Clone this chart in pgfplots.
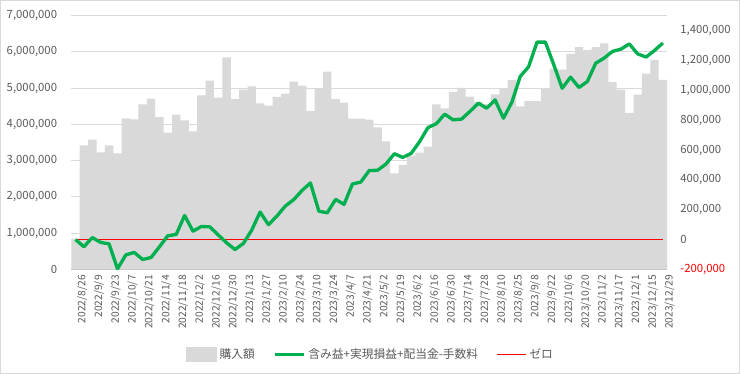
\documentclass[border=0pt]{standalone}
\usepackage{pgfplots}
\usepackage{pgfplotstable}
\pgfplotsset{compat=1.18}
\usepackage{fontspec}
\setmainfont{Noto Sans CJK JP}
\definecolor{barg}{HTML}{D9D9D9}
\definecolor{lineg}{HTML}{00B050}
\definecolor{txt}{HTML}{595959}
\definecolor{gridc}{HTML}{D9D9D9}
\definecolor{axc}{HTML}{BFBFBF}
\definecolor{zred}{HTML}{FF0000}

\pgfplotstableread{
x buy pl
0 850000 0
1 3420000 -49000
2 3580000 13000
3 3230000 -20000
4 3420000 -29000
5 3200000 -197000
6 4170000 -103000
7 4140000 -87000
8 4550000 -134000
9 4710000 -121000
10 4200000 -49000
11 3770000 25000
12 4270000 34000
13 4110000 161000
14 3810000 56000
15 4800000 87000
16 5210000 85000
17 4740000 31000
18 5850000 -22000
19 4700000 -67000
20 4960000 -27000
21 5050000 63000
22 4580000 184000
23 4520000 99000
24 4760000 157000
25 4850000 224000
26 5180000 267000
27 5070000 329000
28 4370000 379000
29 4980000 190000
30 5460000 179000
31 4700000 269000
32 4600000 235000
33 4160000 372000
34 4160000 385000
35 4130000 462000
36 3920000 464000
37 3530000 506000
38 2650000 575000
39 2880000 550000
40 3130000 577000
41 3220000 655000
42 3390000 750000
43 4550000 776000
44 4440000 840000
45 4900000 802000
46 5010000 807000
47 4770000 858000
48 4620000 914000
49 4560000 880000
50 4830000 936000
51 4990000 813000
52 5220000 920000
53 4500000 1093000
54 4640000 1158000
55 4640000 1323000
56 4990000 1323000
57 5540000 1171000
58 5510000 1014000
59 5950000 1088000
60 6130000 1019000
61 6050000 1059000
62 6130000 1182000
63 6240000 1216000
64 5170000 1261000
65 4960000 1276000
66 4320000 1311000
67 4820000 1244000
68 5400000 1223000
69 5780000 1267000
70 5230000 1317000
}\data

\begin{document}
\begin{tikzpicture}
\path[use as bounding box] (-53.5pt,-78.5pt) rectangle (501.5pt,202pt);
\draw[gridc, line width=0.75pt] (-53.1pt,-78.1pt) rectangle (501.1pt,201.6pt);
\begin{axis}[
  scale only axis, width=446.8pt, height=190.2pt,
  xmin=-0.5, xmax=70.5, ymin=0, ymax=7000000,
  scaled y ticks=false, scaled x ticks=false,
  ybar, bar width=1,
  axis x line*=bottom, axis y line*=left,
  y axis line style={draw=none},
  x axis line style={draw=axc, line width=0.75pt, -},
  xtick={0,2,...,70},
  xticklabels={2022/8/26,2022/9/9,2022/9/23,2022/10/7,2022/10/21,2022/11/4,2022/11/18,2022/12/2,2022/12/16,2022/12/30,2023/1/13,2023/1/27,2023/2/10,2023/2/24,2023/3/10,2023/3/24,2023/4/7,2023/4/21,2023/5/2,2023/5/19,2023/6/2,2023/6/16,2023/6/30,2023/7/14,2023/7/28,2023/8/10,2023/8/25,2023/9/8,2023/9/22,2023/10/6,2023/10/20,2023/11/2,2023/11/17,2023/12/1,2023/12/15,2023/12/29},
  xticklabel style={rotate=90, anchor=east, inner sep=0pt, font=\fontsize{7.7pt}{9pt}\selectfont, text=txt, yshift=-5pt},
  major x tick style={draw=none},
  extra x ticks={-0.5,0.5,...,70.5},
  extra x tick labels={},
  extra x tick style={major tick length=3pt, tick align=outside, major tick style={draw=axc, line width=0.6pt}},
  ytick={0,1000000,...,7000000},
  yticklabels={0,{1,000,000},{2,000,000},{3,000,000},{4,000,000},{5,000,000},{6,000,000},{7,000,000}},
  yticklabel style={anchor=east, inner sep=0pt, xshift=-10.5pt, font=\fontsize{8.5pt}{10pt}\selectfont, text=txt},
  major y tick style={draw=none},
  ymajorgrids, grid style={gridc, line width=0.75pt},
]
\addplot[fill=barg, draw=none] table[x=x, y=buy]{\data};
\end{axis}
\begin{axis}[
  scale only axis, width=446.8pt, height=190.2pt,
  xmin=-0.5, xmax=70.5, ymin=-200000, ymax=1500000,
  scaled y ticks=false, scaled x ticks=false,
  axis x line=none, axis y line*=right,
  y axis line style={draw=none},
  ytick={-200000,0,200000,400000,600000,800000,1000000,1200000,1400000},
  yticklabels={\textcolor{zred}{-200,000},0,{200,000},{400,000},{600,000},{800,000},{1,000,000},{1,200,000},{1,400,000}},
  yticklabel style={anchor=west, inner sep=0pt, xshift=9.75pt, font=\fontsize{8.5pt}{10pt}\selectfont, text=txt},
  major y tick style={draw=none},
  legend style={at={(axis description cs:0.503,-0.335)}, anchor=center, draw=none, fill=none,
    font=\fontsize{8.8pt}{10pt}\selectfont, text=txt, legend columns=3,
    /tikz/every even column/.append style={column sep=12pt}},
]
\addplot[zred, line width=0.75pt, forget plot] coordinates {(0,0) (70,0)};
\addplot[lineg, line width=2.5pt, line join=round, forget plot] table[x=x, y=pl]{\data};
\addlegendimage{legend image code/.code={\fill[barg] (0pt,-4.9pt) rectangle (22.5pt,4.9pt);}}
\addlegendentry{購入額}
\addlegendimage{lineg, line width=2.5pt, legend image code/.code={\draw (0pt,0pt) -- (21.75pt,0pt);}}
\addlegendentry{含み益+実現損益+配当金-手数料}
\addlegendimage{zred, line width=0.75pt, legend image code/.code={\draw (0pt,0pt) -- (21.75pt,0pt);}}
\addlegendentry{ゼロ}
\end{axis}
\end{tikzpicture}
\end{document}
